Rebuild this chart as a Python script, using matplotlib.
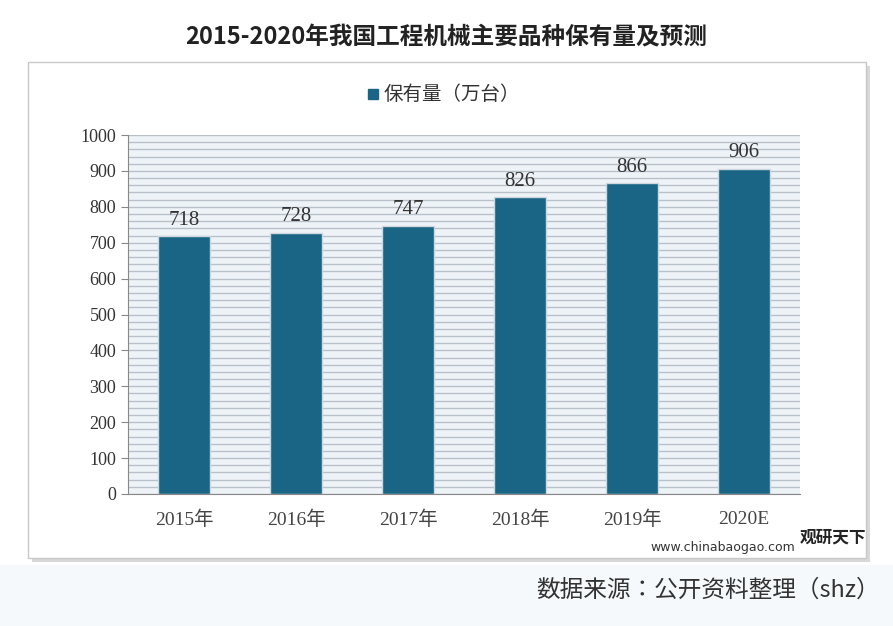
import matplotlib
matplotlib.use("Agg")
import matplotlib.pyplot as plt
from matplotlib.patches import Rectangle

categories = ["2015年", "2016年", "2017年", "2018年", "2019年", "2020E"]
values = [718, 728, 747, 826, 866, 906]
yticks = [0, 100, 200, 300, 400, 500, 600, 700, 800, 900, 1000]

W, H = 893, 626
fig = plt.figure(figsize=(W/100, H/100), dpi=100)
fig.patch.set_facecolor("white")
cjk = ["Noto Sans CJK JP", "Noto Sans CJK SC", "DejaVu Sans"]
serif = ["Liberation Serif", "Noto Sans CJK JP"]

fig.patches.append(Rectangle((0, 0), 1, 1 - 565/H, transform=fig.transFigure, color="#f5f9fc", zorder=0))
fig.patches.append(Rectangle((32/W, 1-562/H), (870-32)/W, (562-66)/H, transform=fig.transFigure,
                             facecolor="#d8d8d8", edgecolor="none", zorder=1))
fig.patches.append(Rectangle((28/W, 1-558/H), (866-28)/W, (558-62)/H, transform=fig.transFigure,
                             facecolor="white", edgecolor="#c8c8c8", lw=1, zorder=2))

fig.text(0.5, 1-37/H, "2015-2020年我国工程机械主要品种保有量及预测", ha="center", va="center",
         fontsize=17, fontweight="bold", family=cjk, color="#222222")
fig.text(880/W, 1-590/H, "数据来源：公开资料整理（shz）", ha="right", va="center",
         fontsize=17, family=cjk, color="#333333")

ax = fig.add_axes([128/W, 1-494/H, (800-128)/W, (494-135)/H], zorder=3)
ax.set_facecolor("#eef3f8")
for y in range(0, 1001, 20):
    ax.axhline(y, color="#b8c0c8", lw=1.0, zorder=0)
x = range(len(categories))
ax.bar(x, values, width=0.46, color="#1a6585", edgecolor="#cfd6dc", lw=1, zorder=3)
for i, v in zip(x, values):
    ax.text(i, v + 18, str(v), ha="center", va="bottom", fontsize=15, family=serif, color="#333333")
ax.set_xlim(-0.5, 5.5)
ax.set_ylim(0, 1000)
ax.set_yticks(yticks)
ax.set_yticklabels([str(t) for t in yticks], fontsize=13, family=serif, color="#333333")
ax.set_xticks(list(x))
ax.set_xticklabels(categories, fontsize=14, family=serif, color="#444444")
ax.tick_params(axis="x", length=0, pad=12)
ax.tick_params(axis="y", length=5, color="#888888")
for s in ["top", "right"]:
    ax.spines[s].set_visible(False)
ax.spines["left"].set_color("#888888")
ax.spines["bottom"].set_color("#888888")

fig.patches.append(Rectangle((368/W, 1-99/H), 10/W, 10/H, transform=fig.transFigure, color="#1a6585", zorder=4))
fig.text(384/W, 1-94/H, "保有量（万台）", ha="left", va="center", fontsize=14, family=cjk, color="#333333", zorder=4)

fig.text(800/W, 1-538/H, "观研天下", ha="left", va="center", fontsize=12, fontweight="bold", family=cjk, color="#222222", zorder=5)
fig.text(650/W, 1-548/H, "www.chinabaogao.com", ha="left", va="center", fontsize=9, family="DejaVu Sans", color="#333333", zorder=5)

fig.savefig("out.png", dpi=100)
